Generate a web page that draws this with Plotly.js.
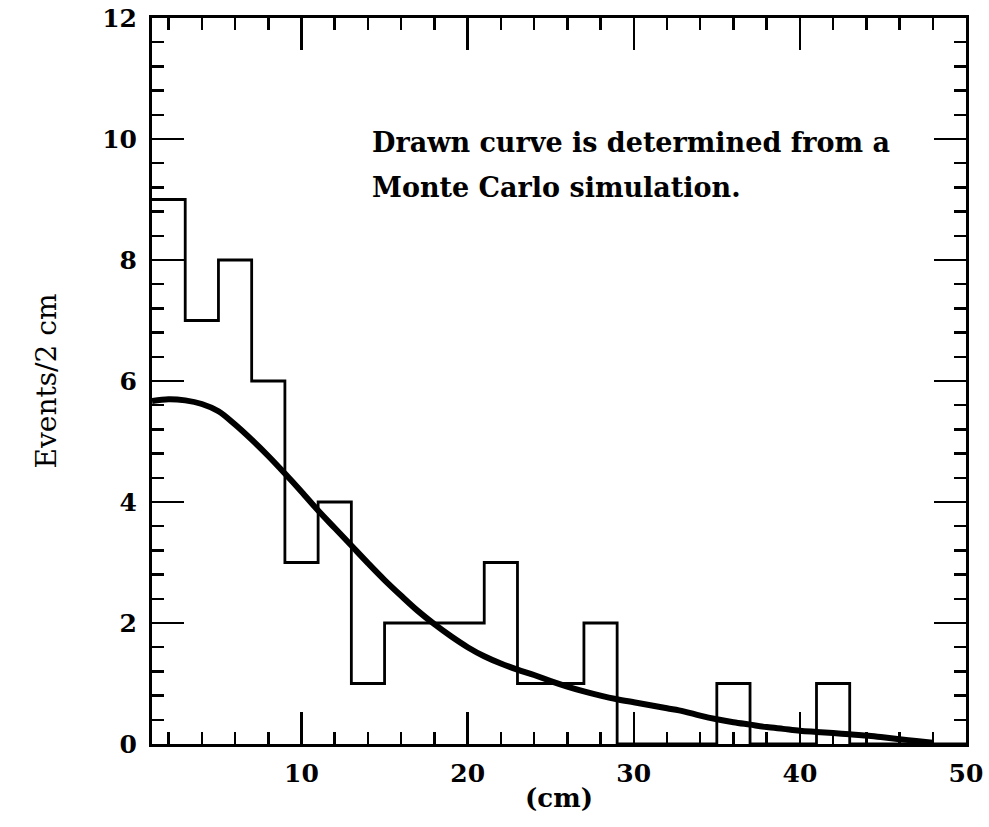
<!DOCTYPE html>
<html>
<head>
<meta charset="utf-8">
<script src="https://cdn.plot.ly/plotly-3.0.1.min.js"></script>
<style>html,body{margin:0;padding:0;background:#fff;}#chart{width:989px;height:827px;}</style>
</head>
<body>
<div id="chart"></div>
<script>
// Histogram: left edges of 2 cm bins and event counts
var binLeft = [1, 3, 5, 7, 9, 11, 13, 15, 17, 19, 21, 23, 25, 27, 29, 31, 33, 35, 37, 39, 41, 43, 45, 47, 49];
var counts  = [9, 7, 8, 6, 3, 4, 1, 2, 2, 2, 3, 1, 1, 2, 0, 0, 0, 1, 0, 0, 1, 0, 0, 0, 0];
var binWidth = 2;

// Monte Carlo curve
var curveX = [1, 2, 3, 4, 5, 6, 7, 8, 9, 10, 11, 12, 13, 14, 15, 16, 17, 18, 19, 20, 21, 22, 23, 24, 25, 26, 27, 28, 29, 30, 31, 32, 33, 34, 35, 36, 37, 38, 39, 40, 41, 42, 43, 44, 45, 46, 47, 48];
var curveY = [5.67, 5.70, 5.68, 5.62, 5.50, 5.28, 5.03, 4.76, 4.47, 4.17, 3.86, 3.57, 3.28, 2.99, 2.71, 2.45, 2.20, 1.98, 1.78, 1.60, 1.45, 1.33, 1.23, 1.14, 1.04, 0.95, 0.87, 0.80, 0.74, 0.69, 0.64, 0.59, 0.54, 0.47, 0.41, 0.36, 0.32, 0.28, 0.25, 0.22, 0.20, 0.18, 0.16, 0.14, 0.11, 0.08, 0.05, 0.02];

var xTickVals = [10, 20, 30, 40, 50];
var yTickVals = [0, 2, 4, 6, 8, 10, 12];
var annotationLines = ["Drawn curve is determined from a", "Monte Carlo simulation."];
var xTitle = "(cm)";
var yTitle = "Events/2 cm";

var histX = binLeft.slice();
histX.push(binLeft[binLeft.length - 1] + binWidth);
var histY = counts.slice();
histY.push(counts[counts.length - 1]);

var serif = "DejaVu Serif, Liberation Serif, serif";

var traces = [
  {x: histX, y: histY, type: 'scatter', mode: 'lines',
   line: {shape: 'hv', color: '#000', width: 2.8}, hoverinfo: 'skip'},
  {x: curveX, y: curveY, type: 'scatter', mode: 'lines',
   line: {shape: 'spline', color: '#000', width: 6}, hoverinfo: 'skip'}
];

var axisCommon = {
  showline: true, linecolor: '#000', linewidth: 3, mirror: 'ticks',
  showgrid: false, zeroline: false, ticks: 'inside', tickcolor: '#000',
  tickwidth: 2.5, ticklen: 32,
  tickfont: {family: serif, size: 25, color: '#000', weight: 'bold'}
};

var layout = {
  width: 989, height: 827,
  margin: {l: 152, r: 23, t: 18, b: 83},
  paper_bgcolor: '#fff', plot_bgcolor: '#fff',
  showlegend: false,
  xaxis: Object.assign({}, axisCommon, {
    range: [1, 50], tickmode: 'array', tickvals: xTickVals,
    ticktext: xTickVals.map(String),
    ticklabelstandoff: 5,
    minor: {dtick: 2, tick0: 0, ticks: 'inside', ticklen: 12, tickwidth: 2.5, tickcolor: '#000'},
    title: {text: xTitle, font: {family: serif, size: 26, color: '#000', weight: 'bold'}, standoff: 2}
  }),
  yaxis: Object.assign({}, axisCommon, {
    range: [0, 12], tickmode: 'array', tickvals: yTickVals,
    ticktext: yTickVals.map(String),
    ticklabelstandoff: 7,
    minor: {dtick: 0.4, tick0: 0, ticks: 'inside', ticklen: 12, tickwidth: 2.5, tickcolor: '#000'},
    title: {text: yTitle, font: {family: serif, size: 28, color: '#000'}, standoff: 38}
  }),
  annotations: [
    {text: annotationLines[0], xref: 'paper', yref: 'paper', x: 0.268, y: 0.829,
     xanchor: 'left', yanchor: 'middle', showarrow: false,
     font: {family: serif, size: 27, color: '#000', weight: 'bold'}},
    {text: annotationLines[1], xref: 'paper', yref: 'paper', x: 0.268, y: 0.766,
     xanchor: 'left', yanchor: 'middle', showarrow: false,
     font: {family: serif, size: 27, color: '#000', weight: 'bold'}}
  ]
};

Plotly.newPlot('chart', traces, layout, {staticPlot: true, displayModeBar: false});
</script>
</body>
</html>
